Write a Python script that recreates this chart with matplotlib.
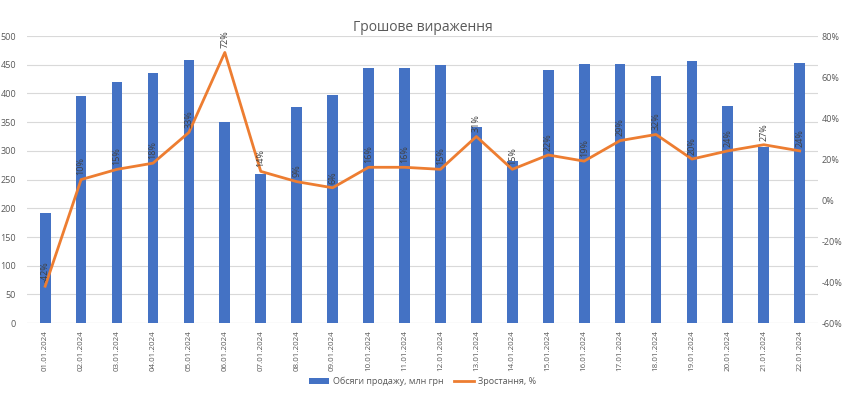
import matplotlib

matplotlib.use("Agg")
import matplotlib.pyplot as plt
from matplotlib.ticker import FuncFormatter, MultipleLocator

plt.rcParams["font.family"] = ["Open Sans", "DejaVu Sans"]

dates = [f"{d:02d}.01.2024" for d in range(1, 23)]
sales = [191, 395, 420, 436, 459, 351, 260, 377, 398, 445, 445, 449,
         342, 283, 441, 451, 451, 431, 456, 379, 307, 453]
growth = [-42, 10, 15, 18, 33, 72, 14, 9, 6, 16, 16, 15,
          31, 15, 22, 19, 29, 32, 20, 24, 27, 24]

BAR_COLOR = "#4472C4"
LINE_COLOR = "#ED7D31"
TEXT_COLOR = "#595959"
GRID_COLOR = "#D9D9D9"

fig = plt.figure(figsize=(8.5, 3.96), dpi=100)
ax = fig.add_axes([0.032, 0.184, 0.930, 0.725])
ax2 = ax.twinx()

x = range(len(dates))
ax.bar(x, sales, width=0.3, color=BAR_COLOR, label="Обсяги продажу, млн грн", zorder=2)
ax2.plot(x, growth, color=LINE_COLOR, linewidth=2, label="Зростання, %", zorder=3)

for xi, g in zip(x, growth):
    ax2.annotate(f"{g}%", (xi, g), xytext=(0, 3), textcoords="offset points",
                 rotation=90, ha="center", va="bottom", fontsize=6.5, color="#404040")

ax.set_xlim(-0.5, len(dates) - 0.5)
ax.set_ylim(0, 500)
ax.yaxis.set_major_locator(MultipleLocator(50))
ax2.set_ylim(-60, 80)
ax2.yaxis.set_major_locator(MultipleLocator(20))
ax2.yaxis.set_major_formatter(FuncFormatter(lambda v, _: f"{v:.0f}%"))

ax.set_xticks(list(x))
ax.set_xticklabels(dates, rotation=90, fontsize=5.8, color=TEXT_COLOR)
ax.tick_params(axis="y", labelsize=6.5, colors=TEXT_COLOR, length=0, pad=8)
ax2.tick_params(axis="y", labelsize=6.5, colors=TEXT_COLOR, length=0, pad=3)
ax.tick_params(axis="x", length=0, pad=5)

ax.grid(True, axis="y", color=GRID_COLOR, linewidth=0.8, zorder=0)
ax.set_axisbelow(True)
for a in (ax, ax2):
    for side in ("top", "left", "right", "bottom"):
        a.spines[side].set_visible(False)
ax.axhline(0, color=GRID_COLOR, linewidth=0.8, zorder=1)

fig.text(0.497, 0.93, "Грошове вираження", ha="center", va="center",
         fontsize=10, color=TEXT_COLOR)

h1, l1 = ax.get_legend_handles_labels()
h2, l2 = ax2.get_legend_handles_labels()
fig.legend(h1 + h2, l1 + l2, loc="center", bbox_to_anchor=(0.497, 0.036), ncol=2,
           frameon=False, fontsize=6.5, labelcolor=TEXT_COLOR, handlelength=2.2,
           columnspacing=1.2, handletextpad=0.4)

fig.savefig("out.png", dpi=100)
